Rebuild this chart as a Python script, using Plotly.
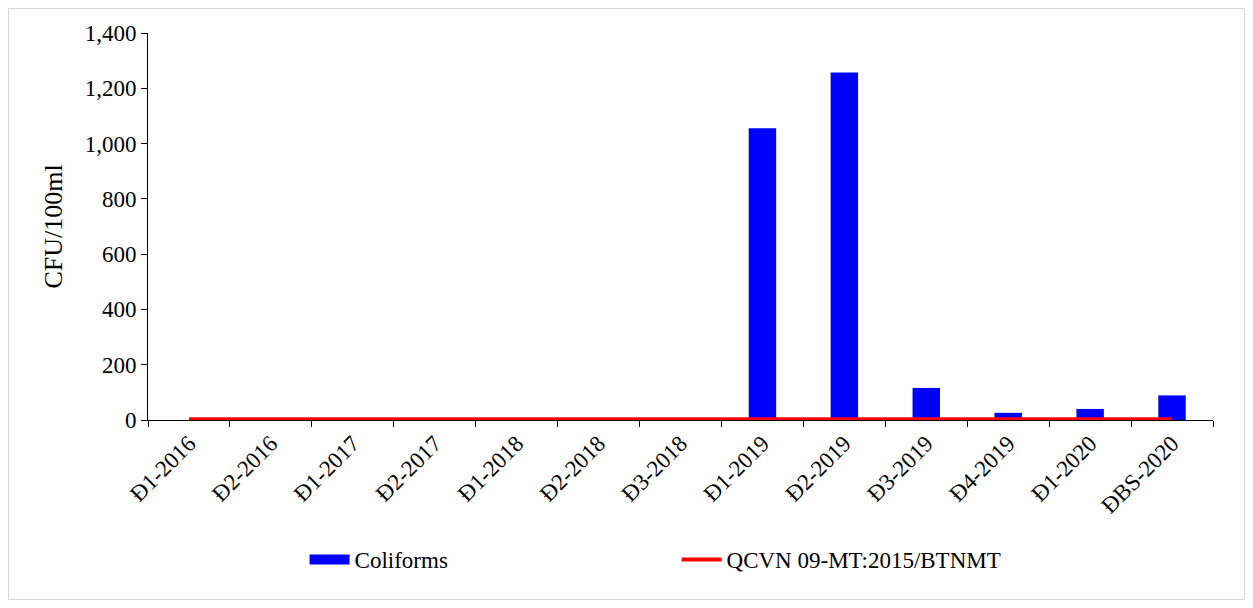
import plotly.graph_objects as go

categories = ["Đ1-2016", "Đ2-2016", "Đ1-2017", "Đ2-2017", "Đ1-2018", "Đ2-2018", "Đ3-2018",
              "Đ1-2019", "Đ2-2019", "Đ3-2019", "Đ4-2019", "Đ1-2020", "ĐBS-2020"]
coliforms = [0, 0, 0, 0, 0, 0, 0, 1055, 1257, 116, 26, 40, 89]
qcvn = [3] * 13

FONT = "Liberation Serif, Times New Roman, serif"

fig = go.Figure()
fig.add_trace(go.Bar(x=categories, y=coliforms, name="Coliforms", showlegend=False,
                     marker=dict(color="#0000FF", line=dict(width=0))))
# legend proxy for the bar series (wide rectangle key like the reference)
fig.add_trace(go.Scatter(x=[None], y=[None], name="Coliforms", mode="lines",
                         line=dict(color="#0000FF", width=14)))
fig.add_trace(go.Scatter(x=categories, y=qcvn, name="QCVN 09-MT:2015/BTNMT",
                         mode="lines", line=dict(color="#FF0000", width=4)))

W, H = 1237, 592
l, t = 140, 25
pw, ph = 1065, 387
r, b = W - l - pw, H - t - ph

fig.update_layout(
    width=W, height=H,
    margin=dict(l=l, r=r, t=t, b=b, pad=0),
    paper_bgcolor="white", plot_bgcolor="white",
    font=dict(family=FONT, size=22, color="black"),
    bargap=0.665,
    showlegend=True,
    legend=dict(orientation="h", x=0.147, y=(412 - 530) / ph, xanchor="left", yanchor="top",
                entrywidth=317, entrywidthmode="pixels", font=dict(size=23),
                itemwidth=40, tracegroupgap=0, bgcolor="rgba(0,0,0,0)"),
    xaxis=dict(type="category", tickson="boundaries", ticks="outside", ticklen=6,
               tickcolor="black", showline=True, linecolor="black", linewidth=1,
               tickangle=-45, tickfont=dict(size=23), showgrid=False,
               range=[-0.5, 12.5]),
    yaxis=dict(range=[0, 1400], dtick=200, tickformat=",", ticks="outside", ticklen=6,
               tickcolor="black", showline=True, linecolor="black", linewidth=1,
               showgrid=False, zeroline=False, tickfont=dict(size=23),
               title=dict(text="CFU/100ml", font=dict(size=26), standoff=14)),
    shapes=[dict(type="rect", xref="paper", yref="paper",
                 x0=(0.5 - l) / pw, x1=(W - 0.5 - l) / pw,
                 y0=-(b - 0.5) / ph, y1=(t - 0.5) / ph + 1,
                 line=dict(color="#d9d9d9", width=1), fillcolor="rgba(0,0,0,0)", layer="below")],
)

fig.write_html("out.html")
